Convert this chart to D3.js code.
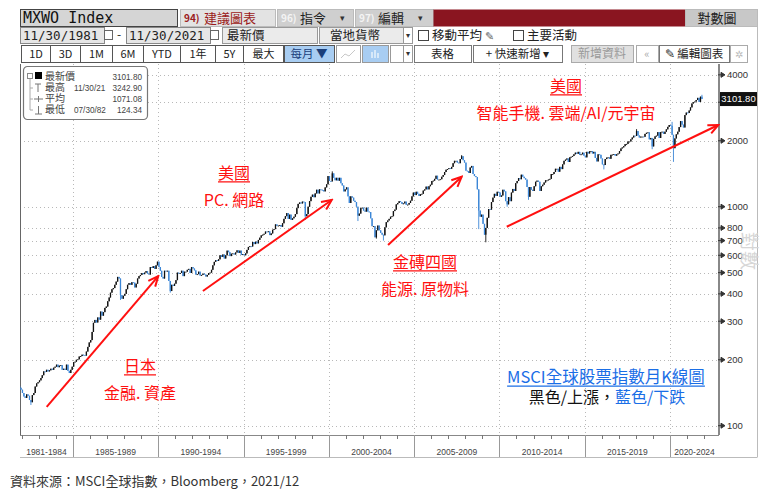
<!DOCTYPE html>
<html>
<head>
<meta charset="utf-8">
<script src="https://cdn.jsdelivr.net/npm/d3@7"></script>
<style>
  body { margin: 0; background: #fff; }
  svg { display: block; font-family: "Noto Sans CJK TC", "Noto Sans", sans-serif; }
</style>
</head>
<body>
<script>
// MSCI World monthly closes, Nov 1981 .. Nov 2021
const firstMonth = new Date(1981, 10, 15);
const firstOpen = 152;
const closes = [
  149, 146,                                                        // 1981
  141, 136, 134, 139, 137, 131, 128, 138, 141, 151, 156, 158,      // 1982
  161, 165, 170, 177, 176, 180, 177, 179, 182, 180, 184, 186,      // 1983
  190, 185, 188, 189, 180, 182, 180, 190, 178, 174, 180, 186,      // 1984
  195, 196, 200, 201, 207, 208, 211, 210, 209, 218, 229, 240,      // 1985
  246, 268, 295, 304, 296, 312, 305, 332, 318, 330, 345, 350,      // 1986
  370, 385, 405, 420, 425, 440, 455, 478, 470, 395, 380, 392,      // 1987
  400, 420, 440, 448, 440, 452, 450, 428, 445, 470, 482, 488,      // 1988
  498, 492, 500, 508, 495, 490, 530, 525, 535, 520, 540, 561,      // 1989
  530, 510, 478, 470, 510, 508, 510, 458, 412, 440, 435, 445,      // 1990
  462, 500, 495, 498, 510, 482, 505, 505, 515, 520, 498, 530,      // 1991
  522, 512, 490, 492, 505, 485, 488, 495, 490, 480, 488, 498,      // 1992
  500, 515, 540, 560, 570, 565, 575, 600, 590, 605, 580, 600,      // 1993
  630, 620, 595, 610, 612, 605, 618, 632, 615, 630, 602, 607,      // 1994
  600, 612, 635, 655, 660, 658, 690, 675, 692, 680, 705, 722,      // 1995
  740, 745, 752, 770, 768, 772, 742, 755, 785, 790, 830, 818,      // 1996
  820, 825, 810, 840, 880, 905, 935, 880, 920, 870, 885, 900,      // 1997
  925, 985, 1030, 1045, 1035, 1055, 1050, 905, 925, 1000, 1060, 1110, // 1998
  1135, 1105, 1150, 1195, 1150, 1200, 1195, 1190, 1175, 1225, 1265, 1380, // 1999
  1310, 1305, 1420, 1355, 1320, 1355, 1315, 1355, 1280, 1250, 1175, 1200, // 2000
  1225, 1115, 1040, 1115, 1100, 1065, 1050, 1000, 910, 930, 985, 990,     // 2001
  960, 950, 990, 950, 945, 885, 815, 815, 725, 780, 820, 780,             // 2002
  760, 745, 740, 805, 850, 865, 880, 900, 905, 955, 970, 1025,            // 2003
  1040, 1060, 1050, 1030, 1035, 1055, 1020, 1022, 1040, 1065, 1115, 1160, // 2004
  1130, 1170, 1145, 1120, 1140, 1145, 1185, 1200, 1235, 1200, 1240, 1260, // 2005
  1310, 1315, 1340, 1385, 1330, 1330, 1335, 1370, 1395, 1440, 1475, 1485, // 2006
  1500, 1490, 1520, 1580, 1620, 1620, 1590, 1580, 1650, 1700, 1630, 1590, // 2007
  1460, 1455, 1425, 1510, 1535, 1410, 1380, 1365, 1200, 960, 900, 920,    // 2008
  835, 745, 800, 890, 975, 970, 1050, 1100, 1145, 1120, 1170, 1160,       // 2009
  1110, 1125, 1195, 1175, 1060, 1025, 1105, 1060, 1160, 1205, 1180, 1280, // 2010
  1310, 1350, 1335, 1400, 1370, 1350, 1330, 1230, 1110, 1230, 1195, 1180, // 2011
  1240, 1300, 1315, 1300, 1180, 1240, 1260, 1290, 1320, 1320, 1330, 1340, // 2012
  1410, 1410, 1440, 1490, 1490, 1445, 1520, 1485, 1560, 1620, 1640, 1660, // 2013
  1600, 1680, 1690, 1705, 1735, 1765, 1745, 1780, 1725, 1735, 1765, 1710, // 2014
  1680, 1780, 1750, 1790, 1795, 1750, 1780, 1670, 1610, 1735, 1725, 1660, // 2015
  1560, 1550, 1650, 1675, 1680, 1655, 1725, 1730, 1740, 1710, 1735, 1750, // 2016
  1795, 1845, 1865, 1890, 1930, 1935, 1985, 1985, 2030, 2070, 2110, 2105, // 2017
  2215, 2115, 2070, 2090, 2090, 2085, 2150, 2175, 2185, 2030, 2060, 1885, // 2018
  2040, 2095, 2110, 2190, 2060, 2190, 2200, 2150, 2200, 2255, 2315, 2360, // 2019
  2340, 2130, 1850, 2050, 2140, 2200, 2310, 2460, 2370, 2300, 2620, 2690, // 2020
  2680, 2750, 2840, 2960, 3000, 3020, 3070, 3140, 3010, 3180, 3101.8      // 2021
];
// intramonth extremes that stick out beyond the candle bodies
const lowWicks = [["1982-07", 124.34], ["1987-10", 375], ["1990-09", 405], ["1998-08", 870],
  ["2001-09", 860], ["2002-10", 715], ["2003-03", 700], ["2008-10", 790], ["2009-03", 688],
  ["2010-06", 1000], ["2011-09", 1075], ["2016-02", 1480], ["2018-12", 1830], ["2020-03", 1602]];
const highWicks = [["2000-03", 1450], ["2007-10", 1720], ["2018-01", 2260], ["2020-02", 2440], ["2021-11", 3242.9]];

const yTicks = [100, 200, 300, 400, 500, 600, 700, 800, 1000, 2000, 3000, 4000];
const hiddenTick = 3000;   // covered by the last-price flag
const periodStarts = [1985, 1990, 1995, 2000, 2005, 2010, 2015, 2020];
const periodLabels = ["1981-1984", "1985-1989", "1990-1994", "1995-1999", "2000-2004",
  "2005-2009", "2010-2014", "2015-2019", "2020-2024"];
const lastPrice = "3101.80";
const legendRows = [
  ["最新價", "", "3101.80"], ["最高", "11/30/21", "3242.90"],
  ["平均", "", "1071.08"], ["最低", "07/30/82", "124.34"]
];
// trend arrows in [year, value] terms
const arrows = [
  [[1983.46, 122], [1990.0, 482]],
  [[1992.62, 412], [2000.17, 1073]],
  [[2003.47, 668], [2007.79, 1371]],
  [[2010.43, 810], [2022.83, 2361]]
];
const notes = [
  { title: "日本", sub: "金融. 資產", x: 140, y: 366 },
  { title: "美國", sub: "PC. 網路", x: 234, y: 173 },
  { title: "金磚四國", sub: "能源. 原物料", x: 425, y: 262 },
  { title: "美國", sub: "智能手機. 雲端/AI/元宇宙", x: 566, y: 86 }
];

const W = 775, H = 492;
const plot = { left: 20, right: 719, top: 64, bottom: 435 };
const UP = "#111", DOWN = "#3b86d6", RED = "#ff1010", BLUE = "#1a6ee6";

const svg = d3.select("body").append("svg").attr("width", W).attr("height", H);

const xs = d3.scaleTime().domain([new Date(1982, 0, 1), new Date(2020, 0, 1)]).range([21.8, 670]);
const ys = d3.scaleLog().domain([100, 1000]).range([425.7, 206.7]);
const yearDate = y => { const Y = Math.floor(y); return new Date(Y, 0, 1 + Math.round((y - Y) * 365)); };

// ---------- toolbar ----------
const tb = svg.append("g");
function box(x, y, w, h, fill, stroke) {
  tb.append("rect").attr("x", x + 0.5).attr("y", y + 0.5).attr("width", w).attr("height", h)
    .attr("fill", fill).attr("stroke", stroke || "none");
}
function txt(x, y, s, size, fill, anchor, family) {
  return tb.append("text").attr("x", x).attr("y", y).text(s).attr("font-size", size)
    .attr("fill", fill).attr("text-anchor", anchor || "start")
    .attr("font-family", family || null);
}
const MONO = "DejaVu Sans Mono";
// row 1
box(20, 9, 157, 17, "#d5d5d5", "#444");
txt(23, 23, "MXWO Index", 15, "#111", "start", MONO);
box(180, 9, 95, 17, "#e3e3e3", "#bbb");
txt(184, 22, "94)", 10, "#9b1b20").attr("font-weight", "bold");
txt(204, 22.5, "建議圖表", 13, "#9b1b20");
box(277, 9, 76, 17, "#cfcfcf", "#bbb");
txt(281, 22, "96)", 10, "#f4f4f4").attr("font-weight", "bold");
txt(300, 22.5, "指令", 13, "#222");
txt(340, 21, "▾", 9, "#333");
box(355, 9, 78, 17, "#cfcfcf", "#bbb");
txt(359, 22, "97)", 10, "#f4f4f4").attr("font-weight", "bold");
txt(378, 22.5, "編輯", 13, "#222");
txt(418, 21, "▾", 9, "#333");
box(433, 9, 252, 17, "#8a1520");
box(685, 9, 72, 17, "#c8c8c8", "#bbb");
txt(717, 22.5, "對數圖", 13, "#222", "middle");
// row 2
box(20, 27, 84, 16, "#e6e6e6", "#888");
txt(23, 39.5, "11/30/1981", 12.5, "#222", "start", MONO);
box(104, 30, 8, 9, "#fff", "#666");
txt(119, 39, "-", 12, "#222", "middle");
box(126, 27, 84, 16, "#e6e6e6", "#888");
txt(129, 39.5, "11/30/2021", 12.5, "#222", "start", MONO);
box(210, 30, 8, 9, "#fff", "#666");
box(222, 27, 95, 16, "#ebebeb", "#999");
txt(227, 40, "最新價", 12.5, "#222");
box(319, 27, 84, 16, "#ebebeb", "#999");
txt(330, 40, "當地貨幣", 12.5, "#222");
box(403, 27, 9, 16, "#fff", "#999");
txt(407.5, 38, "▾", 8, "#333", "middle");
box(418, 30, 10, 10, "#fff", "#444");
txt(432, 40, "移動平均", 12.5, "#222");
txt(485, 40, "✎", 11, "#666");
box(513, 30, 10, 10, "#fff", "#444");
txt(527, 40, "主要活動", 12.5, "#222");
// row 3
const buttons = [["1D", 21, 50], ["3D", 50, 80], ["1M", 80, 112], ["6M", 112, 143], ["YTD", 143, 180],
  ["1年", 180, 215], ["5Y", 215, 243], ["最大", 243, 283]];
buttons.forEach(b => {
  box(b[1], 45, b[2] - b[1], 17, "#fff", "#555");
  txt((b[1] + b[2]) / 2 + 0.5, 57.5, b[0], 11, "#222", "middle");
});
box(284, 45, 50, 17, "#a8cdf2", "#555");
txt(309, 57.5, "每月 ▼", 11.5, "#1b3f7a", "middle");
box(336, 45, 24, 17, "#fff", "#999");
tb.append("path").attr("d", "M341,58 L345,54 L349,56 L355,50").attr("fill", "none").attr("stroke", "#c8c8c8");
box(362, 45, 26, 17, "#a8cdf2", "#999");
tb.append("path").attr("d", "M372,52 v6 M375,50 v8 M378,53 v5").attr("stroke", "#e8f2fc").attr("stroke-width", 1.5);
box(390, 45, 13, 17, "#fff", "#999");
box(403, 45, 9, 17, "#fff", "#999");
txt(407.5, 56, "▾", 8, "#333", "middle");
box(414, 45, 57, 17, "#fff", "#777");
txt(442.5, 57.5, "表格", 11.5, "#222", "middle");
box(473, 45, 89, 17, "#fff", "#777");
txt(517.5, 57.5, "+ 快速新增 ▾", 11.5, "#222", "middle");
box(571, 45, 62, 17, "#e0e0e0", "#aaa");
txt(602, 57.5, "新增資料", 12, "#9a9a9a", "middle");
box(636, 45, 22, 17, "#fff", "#aaa");
txt(647, 57.5, "«", 11, "#aaa", "middle");
box(659, 45, 70, 17, "#fff", "#777");
txt(694, 57.5, "✎ 編輯圖表", 11.5, "#222", "middle");
box(730, 45, 17, 17, "#fff", "#aaa");
txt(738.5, 57.5, "✲", 10, "#bbb", "middle");

// ---------- grid ----------
const grid = svg.append("g").attr("stroke", "#b8b8b8").attr("stroke-dasharray", "1,3");
grid.selectAll("line.h").data(yTicks).join("line")
  .attr("x1", plot.left).attr("x2", plot.right)
  .attr("y1", d => Math.round(ys(d)) + 0.5).attr("y2", d => Math.round(ys(d)) + 0.5);
grid.selectAll("line.v").data(periodStarts).join("line")
  .attr("x1", d => Math.round(xs(new Date(d, 0, 1))) + 0.5).attr("x2", d => Math.round(xs(new Date(d, 0, 1))) + 0.5)
  .attr("y1", plot.top).attr("y2", plot.bottom);

// ---------- frame & axes ----------
const fr = svg.append("g");
fr.append("line").attr("x1", plot.left + 0.5).attr("x2", plot.left + 0.5).attr("y1", plot.top).attr("y2", plot.bottom)
  .attr("stroke", "#666");
fr.append("line").attr("x1", plot.left).attr("x2", plot.right).attr("y1", plot.bottom + 0.5).attr("y2", plot.bottom + 0.5)
  .attr("stroke", "#888");
fr.append("line").attr("x1", plot.right).attr("x2", plot.right).attr("y1", plot.top).attr("y2", plot.bottom)
  .attr("stroke", "#888").attr("stroke-width", 2);
fr.append("line").attr("x1", 757.5).attr("x2", 757.5).attr("y1", 26).attr("y2", 457).attr("stroke", "#bbb");
fr.append("line").attr("x1", plot.left).attr("x2", 757.5).attr("y1", 457.5).attr("y2", 457.5).attr("stroke", "#bbb");

// yearly ticks + period dividers
fr.selectAll("line.yt").data(d3.range(1982, 2023)).join("line")
  .attr("x1", d => Math.round(xs(new Date(d, 0, 1))) + 0.5).attr("x2", d => Math.round(xs(new Date(d, 0, 1))) + 0.5)
  .attr("y1", plot.bottom).attr("y2", plot.bottom + 4).attr("stroke", "#777");
fr.selectAll("line.pd").data(periodStarts).join("line")
  .attr("x1", d => Math.round(xs(new Date(d, 0, 1))) + 0.5).attr("x2", d => Math.round(xs(new Date(d, 0, 1))) + 0.5)
  .attr("y1", plot.bottom).attr("y2", 457).attr("stroke", "#999");
const bounds = [plot.left].concat(periodStarts.map(d => xs(new Date(d, 0, 1))), [plot.right]);
fr.selectAll("text.pl").data(periodLabels).join("text")
  .attr("x", (d, i) => (bounds[i] + bounds[i + 1]) / 2).attr("y", 455)
  .attr("text-anchor", "middle").attr("font-size", 8.5).attr("fill", "#444")
  .attr("font-family", "Liberation Sans").text(d => d);

// right axis (log)
const ax = svg.append("g");
ax.selectAll("path").data(yTicks).join("path")
  .attr("d", d => { const y = ys(d); return `M718,${y} h3 M721,${y - 2.5} L725,${y} L721,${y + 2.5}Z`; })
  .attr("fill", "#333").attr("stroke", "#333").attr("stroke-width", 1);
ax.selectAll("text").data(yTicks.filter(d => d !== hiddenTick)).join("text")
  .attr("x", 727).attr("y", d => ys(d) + 3.3).attr("font-size", 9.5).attr("fill", "#333")
  .attr("font-family", "Liberation Sans").text(d => d);
// watermark
svg.append("text").attr("transform", "translate(742,251) rotate(90)").attr("text-anchor", "middle")
  .attr("font-size", 19).attr("fill", "#d6d6d6").text("對數");

// ---------- candles ----------
const lowMap = new Map(lowWicks), highMap = new Map(highWicks);
const candles = closes.map((c, i) => {
  const date = new Date(firstMonth.getFullYear(), firstMonth.getMonth() + i, 15);
  const key = d3.timeFormat("%Y-%m")(date);
  const o = i === 0 ? firstOpen : closes[i - 1];
  return {
    date, o, c,
    h: Math.max(o, c, highMap.get(key) || 0),
    l: Math.min(o, c, lowMap.get(key) || Infinity)
  };
});
svg.append("clipPath").attr("id", "clip").append("rect")
  .attr("x", plot.left).attr("y", plot.top).attr("width", plot.right - plot.left).attr("height", plot.bottom - plot.top);
const cg = svg.append("g").attr("clip-path", "url(#clip)");
cg.selectAll("line").data(candles).join("line")
  .attr("x1", d => xs(d.date)).attr("x2", d => xs(d.date))
  .attr("y1", d => ys(d.h)).attr("y2", d => ys(d.l))
  .attr("stroke", d => d.c >= d.o ? UP : DOWN).attr("stroke-width", 0.9);
cg.selectAll("rect").data(candles).join("rect")
  .attr("x", d => xs(d.date) - 0.65).attr("width", 1.3)
  .attr("y", d => ys(Math.max(d.o, d.c)))
  .attr("height", d => Math.max(ys(Math.min(d.o, d.c)) - ys(Math.max(d.o, d.c)), 0.9))
  .attr("fill", d => d.c >= d.o ? UP : DOWN);

// last price flag
const lp = ys(+lastPrice);
svg.append("rect").attr("x", 720).attr("y", lp - 7).attr("width", 37).attr("height", 14).attr("fill", "#111");
svg.append("text").attr("x", 738.5).attr("y", lp + 3.3).attr("text-anchor", "middle")
  .attr("font-size", 9.5).attr("fill", "#fff").attr("font-family", "Liberation Sans").text(lastPrice);

// ---------- legend ----------
const lg = svg.append("g").attr("transform", "translate(23,66)");
lg.append("rect").attr("x", 0.5).attr("y", 0.5).attr("width", 124).attr("height", 53).attr("rx", 4)
  .attr("fill", "#fff").attr("stroke", "#777").attr("stroke-width", 1.2);
lg.append("path").attr("d", "M7,13 V44 M7,22 H10 M7,33 H10 M7,44 H10").attr("stroke", "#aaa").attr("fill", "none");
lg.append("rect").attr("x", 4.5).attr("y", 7.5).attr("width", 5).attr("height", 5).attr("fill", "#fff").attr("stroke", "#888");
lg.append("rect").attr("x", 12).attr("y", 6).attr("width", 7).attr("height", 7).attr("fill", "#000");
lg.append("path").attr("d", "M12,18 h6 M15,18 v8 M11,33 h9 M15.5,30 v6 M12,48 h7 M15.5,40 v8")
  .attr("stroke", "#777").attr("fill", "none");
legendRows.forEach((r, i) => {
  const y = 13.5 + i * 11;
  lg.append("text").attr("x", 22).attr("y", y).attr("font-size", 10).attr("fill", "#444").text(r[0]);
  lg.append("text").attr("x", 51).attr("y", y).attr("font-size", 8.2).attr("fill", "#444")
    .attr("font-family", "Liberation Sans").text(r[1]);
  lg.append("text").attr("x", 119).attr("y", y).attr("text-anchor", "end").attr("font-size", 8.2)
    .attr("fill", "#444").attr("font-family", "Liberation Sans").text(r[2]);
});

// ---------- annotations ----------
svg.append("defs").append("marker").attr("id", "arrow")
  .attr("viewBox", "-12 -6 14 12").attr("markerUnits", "userSpaceOnUse")
  .attr("markerWidth", 14).attr("markerHeight", 12).attr("refX", 0).attr("refY", 0).attr("orient", "auto")
  .append("path").attr("d", "M-10,-4.5 L0,0 L-10,4.5").attr("fill", "none").attr("stroke", RED).attr("stroke-width", 2);
svg.append("g").selectAll("line").data(arrows).join("line")
  .attr("x1", d => xs(yearDate(d[0][0]))).attr("y1", d => ys(d[0][1]))
  .attr("x2", d => xs(yearDate(d[1][0]))).attr("y2", d => ys(d[1][1]))
  .attr("stroke", RED).attr("stroke-width", 2).attr("marker-end", "url(#arrow)");

function underlined(g, x, y, s, size, color) {
  const t = g.append("text").attr("x", x).attr("y", y + size * 0.36).attr("text-anchor", "middle")
    .attr("font-size", size).attr("fill", color).text(s);
  const w = t.node().getComputedTextLength();
  g.append("line").attr("x1", x - w / 2).attr("x2", x + w / 2)
    .attr("y1", y + size * 0.55).attr("y2", y + size * 0.55).attr("stroke", color).attr("stroke-width", 1.2);
  return t;
}
const ng = svg.append("g");
notes.forEach(n => {
  underlined(ng, n.x, n.y, n.title, 16, RED);
  ng.append("text").attr("x", n.x).attr("y", n.y + 27 + 16 * 0.36).attr("text-anchor", "middle")
    .attr("font-size", 16).attr("fill", RED).text(n.sub);
});
underlined(ng, 606, 377, "MSCI全球股票指數月K線圖", 16.5, BLUE);
const key = ng.append("text").attr("x", 607).attr("y", 397 + 16 * 0.36).attr("text-anchor", "middle").attr("font-size", 16);
key.append("tspan").attr("fill", "#111").text("黑色/上漲，");
key.append("tspan").attr("fill", BLUE).text("藍色/下跌");

// source line
svg.append("text").attr("x", 10).attr("y", 486).attr("font-size", 13).attr("fill", "#333")
  .text("資料來源：MSCI全球指數，Bloomberg，2021/12");
</script>
</body>
</html>
